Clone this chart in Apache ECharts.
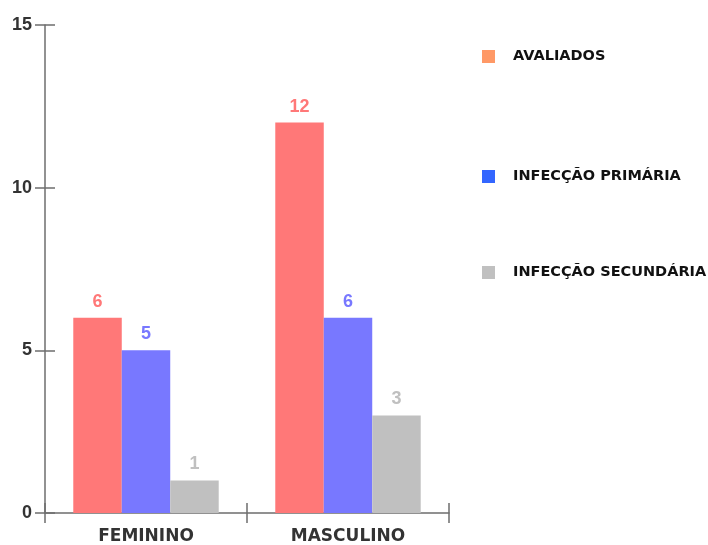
<!DOCTYPE html>
<html>
<head>
<meta charset="utf-8">
<script src="https://cdn.jsdelivr.net/npm/echarts@6/dist/echarts.min.js"></script>
<style>
  html, body { margin: 0; padding: 0; background: #fff; }
  #chart { width: 708px; height: 545px; }
</style>
</head>
<body>
<div id="chart"></div>
<script>
// Categories and series values
const categories = ['FEMININO', 'MASCULINO'];
const avaliados = [6, 12];
const infeccaoPrimaria = [5, 6];
const infeccaoSecundaria = [1, 3];
const yTicks = [0, 5, 10, 15];

const seriesNames = ['AVALIADOS', 'INFECÇÃO PRIMÁRIA', 'INFECÇÃO SECUNDÁRIA'];
const barColors = ['#ff7878', '#7878ff', '#c0c0c0'];
const legendColors = ['#ff9966', '#3366ff', '#c0c0c0'];
const legendTops = [44, 164, 260];

const NUM_FONT = 'Liberation Sans, Arial, sans-serif';
const TEXT_FONT = 'DejaVu Sans, sans-serif';
const axisColor = '#6e6e6e';

const chart = echarts.init(document.getElementById('chart'));

const baseY = {
  type: 'value', min: yTicks[0], max: yTicks[yTicks.length - 1], interval: 5,
  splitLine: { show: false }
};

const option = {
  animation: false,
  backgroundColor: '#fff',
  grid: { left: 45, top: 25, width: 404, bottom: 32, containLabel: false },
  legend: seriesNames.map((n, i) => ({
    data: [{ name: n, itemStyle: { color: legendColors[i] } }],
    left: 477, top: legendTops[i], orient: 'vertical',
    itemWidth: 13, itemHeight: 13, itemGap: 0,
    icon: 'rect',
    textStyle: { fontFamily: TEXT_FONT, fontWeight: 'bold', fontSize: 14.5, color: '#111', padding: [0, 0, 0, 13] }
  })),
  xAxis: [{
    type: 'category', data: categories,
    axisLine: { lineStyle: { color: axisColor, width: 1.5 } },
    axisTick: { show: true, length: 10, alignWithLabel: false, lineStyle: { color: axisColor, width: 1.5 } },
    axisLabel: { fontFamily: TEXT_FONT, fontWeight: 'bold', fontSize: 17, color: '#333', margin: 15 }
  }, {
    type: 'category', data: categories, position: 'bottom',
    axisLine: { show: false },
    axisTick: { show: true, inside: true, length: 10, lineStyle: { color: axisColor, width: 1.5 } },
    axisLabel: { show: false }
  }],
  yAxis: [Object.assign({}, baseY, {
    axisLine: { show: true, lineStyle: { color: axisColor, width: 1.5 } },
    axisTick: { show: true, length: 10, lineStyle: { color: axisColor, width: 1.5 } },
    axisLabel: { fontFamily: NUM_FONT, fontWeight: 'bold', fontSize: 18, color: '#333', margin: 13 }
  }), Object.assign({}, baseY, {
    position: 'left',
    axisLine: { show: false },
    axisTick: { show: true, inside: true, length: 10, lineStyle: { color: axisColor, width: 1.5 } },
    axisLabel: { show: false }
  })],
  series: [avaliados, infeccaoPrimaria, infeccaoSecundaria].map((vals, i) => ({
    name: seriesNames[i],
    type: 'bar',
    data: vals,
    barGap: '0%',
    barCategoryGap: '28%',
    itemStyle: { color: barColors[i] },
    label: {
      show: true, position: 'top', distance: 7,
      fontFamily: NUM_FONT, fontWeight: 'bold', fontSize: 18, color: barColors[i]
    }
  }))
};

chart.setOption(option);
</script>
</body>
</html>
